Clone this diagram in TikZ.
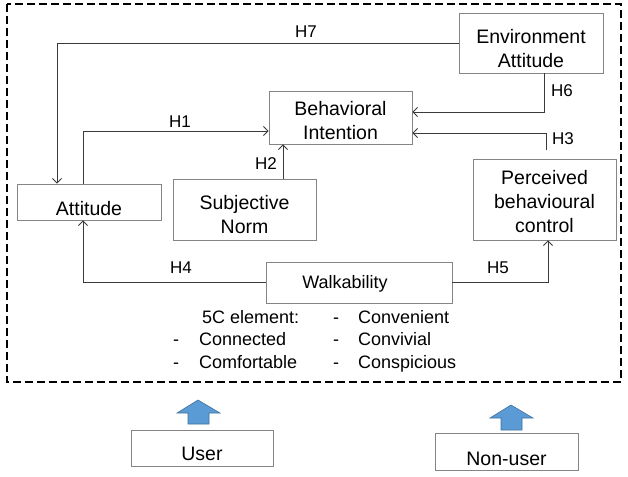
\documentclass[tikz,border=0pt]{standalone}
\usepackage{fontspec}
\setmainfont{Liberation Sans}
\usetikzlibrary{arrows.meta}
\definecolor{boxgray}{HTML}{858585}
\definecolor{conngray}{HTML}{3A3A3A}
\definecolor{arrblue}{HTML}{5B9BD5}
\definecolor{arrblueline}{HTML}{41719C}
\tikzset{
  boxnode/.style={draw=boxgray, line width=0.8pt, inner sep=0pt, rectangle},
  maintext/.style={font=\fontsize{19.5}{24}\selectfont, align=center, inner sep=0pt},
  smalltext/.style={font=\fontsize{18}{22}\selectfont, inner sep=0pt},
  hlabel/.style={font=\fontsize{17}{20}\selectfont, inner sep=0pt, anchor=base},
  conn/.style={draw=conngray, line width=0.9pt, -{Straight Barb[length=4.5pt,width=9pt]}},
  bluearrow/.style={fill=arrblue, draw=arrblueline, line width=0.6pt, line join=miter},
  frame/.style={draw=black, line width=2.9pt, dash pattern=on 8pt off 4pt}
}
\begin{document}
\begin{tikzpicture}[x=1pt,y=-1pt]
\useasboundingbox (0,0) rectangle (628,476);
% dashed frame
\draw[frame] (7,4) rectangle (621,382);
% boxes
\node[boxnode, minimum width=144pt, minimum height=60pt] (env) at (531,43) {};
\node[boxnode, minimum width=143pt, minimum height=53pt] (bi) at (340.5,117.5) {};
\node[boxnode, minimum width=144pt, minimum height=36pt] (att) at (89,202) {};
\node[boxnode, minimum width=143pt, minimum height=61pt] (sn) at (244.5,209.5) {};
\node[boxnode, minimum width=143pt, minimum height=81pt] (pbc) at (544.5,199.5) {};
\node[boxnode, minimum width=186pt, minimum height=41pt] (walk) at (359,282.5) {};
\node[boxnode, minimum width=142pt, minimum height=36pt] (user) at (202,448) {};
\node[boxnode, minimum width=143pt, minimum height=37pt] (nonuser) at (506.5,451.5) {};
% box texts
\node[maintext] (envT) at (531,48.4) {Environment\\Attitude};
\node[maintext] (biT) at (340.5,120.4) {Behavioral\\Intention};
\node[maintext, anchor=base] (attT) at (89,215) {Attitude};
\node[maintext] (snT) at (244.5,214.9) {Subjective\\Norm};
\node[maintext] (pbcT) at (544.5,201.9) {Perceived\\behavioural\\control};
\node[smalltext, anchor=base] (walkT) at (345,288) {Walkability};
\node[maintext, anchor=base] (userT) at (202,460) {User};
\node[maintext, anchor=base] (nonuserT) at (506.5,465) {Non-user};
% 5C list
\node[smalltext, anchor=base west] (l0) at (202,323) {5C element:};
\node[smalltext, anchor=base] (d1) at (176,345.5) {-};
\node[smalltext, anchor=base west] (l1) at (199,345.5) {Connected};
\node[smalltext, anchor=base] (d2) at (176,368) {-};
\node[smalltext, anchor=base west] (l2) at (199,368) {Comfortable};
\node[smalltext, anchor=base] (d3) at (336,323) {-};
\node[smalltext, anchor=base west] (r1) at (358,323) {Convenient};
\node[smalltext, anchor=base] (d4) at (336,345.5) {-};
\node[smalltext, anchor=base west] (r2) at (358,345.5) {Convivial};
\node[smalltext, anchor=base] (d5) at (336,368) {-};
\node[smalltext, anchor=base west] (r3) at (358,368) {Conspicious};
% connectors
\draw[conn] (env.west) -| ([xshift=-32pt]att.north);
\draw[conn] ([xshift=-6pt]att.north) |- ([yshift=-13.5pt]bi.west);
\draw[conn] ([xshift=38.5pt]sn.north) -- ([xshift=38.5pt]sn.north |- bi.south);
\draw[conn] ([xshift=13pt]env.south) |- ([yshift=5.5pt]bi.east);
\coordinate (h3s) at (546,150);
\draw[conn] (h3s) |- ([yshift=-15.5pt]bi.east);
\draw[conn] (walk.west) -| ([xshift=-6pt]att.south);
\draw[conn] (walk.east) -| ([xshift=3.5pt]pbc.south);
% hypothesis labels
\node[hlabel] (h7) at (306,38) {H7};
\node[hlabel] (h1) at (180,127) {H1};
\node[hlabel] (h2) at (266,169) {H2};
\node[hlabel] (h6) at (562,97) {H6};
\node[hlabel] (h3) at (563,144) {H3};
\node[hlabel] (h4) at (181,273) {H4};
\node[hlabel] (h5) at (498,273) {H5};
% blue arrows
\draw[bluearrow] (198,400) -- (220,413) -- (209,413) -- (209,424) -- (188,424) -- (188,413) -- (177,413) -- cycle;
\draw[bluearrow] (511,405) -- (533,418) -- (522,418) -- (522,430) -- (501,430) -- (501,418) -- (490,418) -- cycle;
\end{tikzpicture}
\end{document}
